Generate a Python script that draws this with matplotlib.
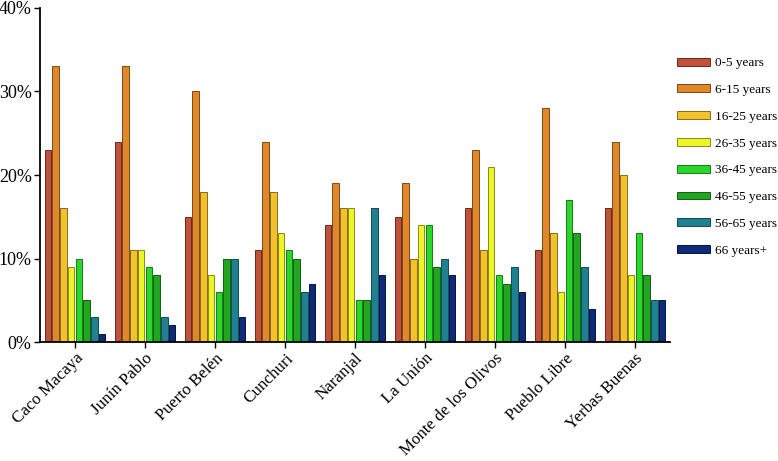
import matplotlib
matplotlib.use("Agg")
import matplotlib.pyplot as plt
import numpy as np
from matplotlib.ticker import FuncFormatter

plt.rcParams['font.family'] = ['Liberation Serif', 'DejaVu Serif']

sites = ["Caco Macaya", "Junín Pablo", "Puerto Belén", "Cunchuri", "Naranjal",
         "La Unión", "Monte de los Olivos", "Pueblo Libre", "Yerbas Buenas"]
age_groups = ["0-5 years", "6-15 years", "16-25 years", "26-35 years",
              "36-45 years", "46-55 years", "56-65 years", "66 years+"]
age_0_5 = [23, 24, 15, 11, 14, 15, 16, 11, 16]
age_6_15 = [33, 33, 30, 24, 19, 19, 23, 28, 24]
age_16_25 = [16, 11, 18, 18, 16, 10, 11, 13, 20]
age_26_35 = [9, 11, 8, 13, 16, 14, 21, 6, 8]
age_36_45 = [10, 9, 6, 11, 5, 14, 8, 17, 13]
age_46_55 = [5, 8, 10, 10, 5, 9, 7, 13, 8]
age_56_65 = [3, 3, 10, 6, 16, 10, 9, 9, 5]
age_66p = [1, 2, 3, 7, 8, 8, 6, 4, 5]
series = [age_0_5, age_6_15, age_16_25, age_26_35, age_36_45, age_46_55, age_56_65, age_66p]

colors = ["#C2513C", "#E0872A", "#F2C12C", "#EEF527", "#2BD62B", "#22A622", "#1E8090", "#0E2A7A"]
edges = ["#6B2A1E", "#7A4A16", "#8A6A18", "#8A8A18", "#187A18", "#125E12", "#124A52", "#071640"]

fig = plt.figure(figsize=(7.78, 4.61), dpi=100)
ax = fig.add_axes([40/778, 1-342/461, 630/778, 334/461])

x = np.arange(len(sites))
pitch = 0.11
width = 0.093
for k, (vals, c, e, lab) in enumerate(zip(series, colors, edges, age_groups)):
    ax.bar(x + (k - 3.5) * pitch, vals, width=width, color=c, edgecolor=e,
           linewidth=0.7, label=lab)

ax.set_xlim(-0.5, 8.5)
ax.set_ylim(0, 40)
ax.set_yticks([0, 10, 20, 30, 40])
ax.yaxis.set_major_formatter(FuncFormatter(lambda v, p: f"{int(v)}%"))
ax.set_xticks(x)
ax.set_xticklabels(sites, rotation=45, ha='right', rotation_mode='anchor')
ax.tick_params(axis='both', labelsize=12.2, direction='out', length=4, width=1, color='black')
ax.tick_params(axis='x', pad=2)
ax.tick_params(axis='y', pad=2, labelsize=13)
for s in ['top', 'right']:
    ax.spines[s].set_visible(False)
for s in ['left', 'bottom']:
    ax.spines[s].set_linewidth(1.3)

fig.legend(loc='upper left', bbox_to_anchor=(672/778, 1-52/461), frameon=False,
           fontsize=9.5, handlelength=2.5, handleheight=0.55, labelspacing=1.12,
           handletextpad=0.35, borderaxespad=0)

fig.savefig("out.png", dpi=100)
